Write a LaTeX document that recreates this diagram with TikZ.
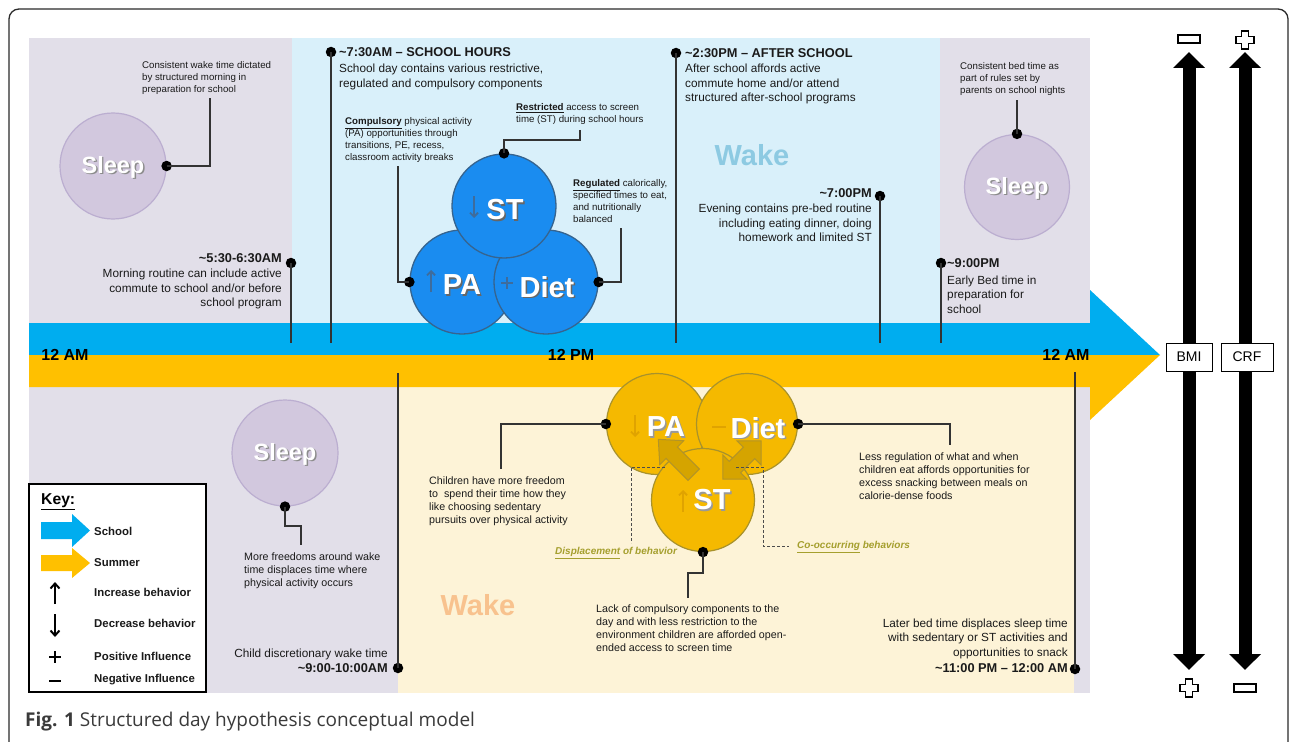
\documentclass[tikz,border=0pt]{standalone}
\usepackage{fontspec}
\setmainfont{Liberation Sans}
\newfontfamily\capfont{Open Sans}
\usetikzlibrary{arrows.meta}
\definecolor{purplebg}{HTML}{E2DFE9}
\definecolor{bluebg}{HTML}{D9F0FA}
\definecolor{creambg}{HTML}{FDF3D7}
\definecolor{schoolblue}{HTML}{00ADEF}
\definecolor{summeryel}{HTML}{FFC000}
\definecolor{sleepfill}{HTML}{D2C8DE}
\definecolor{sleepdraw}{HTML}{BBAED0}
\definecolor{bfill}{HTML}{1A8CF0}
\definecolor{bdraw}{HTML}{36648F}
\definecolor{bglyph}{HTML}{3E6C9C}
\definecolor{yfill}{HTML}{F5B900}
\definecolor{ydraw}{HTML}{A8922C}
\definecolor{yglyph}{HTML}{E0A300}
\definecolor{blkfill}{HTML}{D5A400}
\definecolor{blkdraw}{HTML}{B39427}
\definecolor{olive}{HTML}{A59F2E}
\definecolor{wakeblue}{HTML}{8DCAE2}
\definecolor{wakepeach}{HTML}{F8C28E}
\definecolor{txt}{HTML}{1A1A1A}
\definecolor{framec}{HTML}{2B2B2B}
\definecolor{capc}{HTML}{3A3A3A}
\definecolor{conncol}{HTML}{333333}
\newcommand\hdr[1]{{\fontsize{12.8}{14.5}\selectfont\bfseries #1}}
\begin{document}
\begin{tikzpicture}[x=1pt,y=-1pt,
  sm/.style={font=\fontsize{9.7}{11.8}\selectfont, inner sep=0, text=txt, align=left},
  smb/.style={font=\fontsize{10.7}{13}\selectfont, inner sep=0, text=txt, align=left},
  md/.style={font=\fontsize{11.8}{14.5}\selectfont, inner sep=0, text=txt},
  dot/.style={circle, fill=black, inner sep=0, minimum size=10.5},
  conn/.style={draw=conncol, line width=1.3pt},
  dashc/.style={draw=black!70, line width=0.9pt, dash pattern=on 3pt off 2pt},
  sleepc/.style={circle, fill=sleepfill, draw=sleepdraw, line width=1.2pt, minimum size=106, inner sep=0},
  bcirc/.style={circle, fill=bfill, draw=bdraw, line width=1.3pt, minimum size=104, inner sep=0},
  ycirc/.style={circle, fill=yfill, draw=ydraw, line width=1.2pt, minimum size=101, inner sep=0},
  bigw/.style={font=\fontsize{29}{29}\selectfont\bfseries, inner sep=0},
  sleept/.style={font=\fontsize{23.5}{24}\selectfont\bfseries, inner sep=0},
  keyt/.style={font=\fontsize{11.4}{13}\selectfont\bfseries, anchor=west, inner sep=0, text=txt},
  olivet/.style={font=\fontsize{10}{12}\selectfont\bfseries\itshape, text=olive, anchor=west, inner sep=0},
  glyph/.style={line width=1.8pt, -{Straight Barb[length=4pt,width=8pt]}},
  blk/.style={fill=blkfill, draw=blkdraw, line width=1pt},
  bigarrow/.style={line width=13pt, {Triangle[length=16pt,width=31pt]}-{Triangle[length=16pt,width=31pt]}},
  axbox/.style={draw=black, fill=white, line width=1pt, minimum width=46, minimum height=28, inner sep=0, font=\fontsize{14}{14}\selectfont},
  sym/.style={draw=black, fill=white, line width=1.4pt}
]
\useasboundingbox (0,0) rectangle (1292,741);
\fill[white] (0,0) rectangle (1292,741);
% frame
\draw[framec, line width=1.3pt, rounded corners=10pt] (9,760) -- (9,9) -- (1288,9) -- (1288,760);
% backgrounds
\fill[purplebg] (29,38) rectangle (292,323);
\fill[bluebg] (292,38) rectangle (940,323);
\fill[purplebg] (940,38) rectangle (1090,323);
\fill[purplebg] (29,387) rectangle (398,693);
\fill[creambg] (398,387) rectangle (1074,693);
\fill[purplebg] (1074,387) rectangle (1090,693);
% timeline arrow
\fill[schoolblue] (29,323) -- (1090,323) -- (1090,290) -- (1160,355) -- (29,355) -- cycle;
\fill[summeryel] (29,355) -- (1160,355) -- (1090,420) -- (1090,387) -- (29,387) -- cycle;

% ===== TOP (school) =====
% sleep left
\node[sleepc] (sl1) at (113,166) {};
\node[sleept, text=black!45] at (113+1.4,167+1.4) {Sleep};
\node[sleept, text=white] (sl1t) at (113,167) {Sleep};
\node[sm, anchor=north west] (twake) at (142,61.5) {Consistent wake time dictated\\by structured morning in\\preparation for school};
\coordinate (c1) at (210,98);
\node[dot] (dsl1) at (sl1.east) {};
\draw[conn] (dsl1.center) -| (c1);

% 5:30
\node[md, anchor=north east, align=right] (t530) at (282,253.5) {\hdr{\textasciitilde5:30-6:30AM}\\[0.5pt]Morning routine can include active\\commute to school and/or before\\school program};
\node[dot] (d530) at (291,263) {};
\coordinate (e530) at (291,343);
\draw[conn] (d530.center) -- (e530);

% 7:30
\node[md, anchor=north west, align=left] (t730) at (339,47.5) {\hdr{\textasciitilde7:30AM – SCHOOL HOURS}\\[1.5pt]School day contains various restrictive,\\regulated and compulsory components};
\node[dot] (d730) at (331,52) {};
\coordinate (e730) at (331,343);
\draw[conn] (d730.center) -- (e730);

% blue circles
\node[bcirc] (bpa) at (462,282) {};
\node[bcirc] (bdiet) at (546,282) {};
\node[bcirc] (bst) at (504,206) {};
\node[bigw, text=black!60] at (505+1.5,210+1.5) {ST};
\node[bigw, text=white] (bstt) at (505,210) {ST};
\node[bigw, text=black!60] at (462+1.5,285+1.5) {PA};
\node[bigw, text=white] (bpat) at (462,285) {PA};
\node[bigw, text=black!60] at (547+1.5,287+1.5) {Diet};
\node[bigw, text=white] (bdiett) at (547,287) {Diet};
\draw[glyph, draw=bglyph] (474,196) -- (474,218);
\draw[glyph, draw=bglyph] (431,292) -- (431,270);
\draw[bglyph, line width=2.6pt] (501,283) -- (513,283) (507,277) -- (507,289);

% compulsory
\node[sm, anchor=north west] (tcomp) at (345,117.5) {\underline{\textbf{Compulsory}} physical activity\\(PA) opportunities through\\transitions, PE, recess,\\classroom activity breaks};
\coordinate (cC) at (398,166);
\node[dot] (dbpa) at (bpa.west) {};
\draw[conn] (cC) |- (dbpa.center);
% restricted
\node[sm, anchor=north west] (trest) at (516,103.5) {\underline{\textbf{Restricted}} access to screen\\time (ST) during school hours};
\coordinate (cR) at (580,130);
\node[dot] (dbst) at (bst.north) {};
\draw[conn] (cR) -- (580,140) -| (dbst.center);
% regulated
\node[sm, anchor=north west] (treg) at (573,179.5) {\underline{\textbf{Regulated}} calorically,\\specified times to eat,\\and nutritionally\\balanced};
\coordinate (cG) at (621,228);
\node[dot] (dbdiet) at (bdiet.east) {};
\draw[conn] (cG) |- (dbdiet.center);

% 2:30
\node[md, anchor=north west, align=left] (t230) at (685,48.5) {\hdr{\textasciitilde2:30PM – AFTER SCHOOL}\\[0.5pt]After school affords active\\commute home and/or attend\\structured after-school programs};
\node[dot] (d230) at (676,53) {};
\coordinate (e230) at (676,343);
\draw[conn] (d230.center) -- (e230);

\node[bigw, text=wakeblue] (wake1) at (752,155) {Wake};

% 7:00
\node[md, anchor=north east, align=right] (t700) at (872,188.5) {\hdr{\textasciitilde7:00PM}\\[0.5pt]Evening contains pre-bed routine\\including eating dinner, doing\\homework and limited ST};
\node[dot] (d700) at (880,196) {};
\coordinate (e700) at (880,343);
\draw[conn] (d700.center) -- (e700);

% sleep right
\node[sleepc, minimum size=105] (sl2) at (1017,187) {};
\node[sleept, text=black!45] at (1017+1.4,188+1.4) {Sleep};
\node[sleept, text=white] (sl2t) at (1017,188) {Sleep};
\node[sm, anchor=north west] (tbed) at (960,62.5) {Consistent bed time as\\part of rules set by\\parents on school nights};
\coordinate (c2) at (1017,100);
\node[dot] (dsl2) at (sl2.north) {};
\draw[conn] (dsl2.center) -- (c2);

% 9:00
\node[md, anchor=north west, align=left] (t900) at (947,258.5) {\hdr{\textasciitilde9:00PM}\\[2pt]Early Bed time in\\preparation for\\school};
\node[dot] (d900) at (941,263) {};
\coordinate (e900) at (941,343);
\draw[conn] (d900.center) -- (e900);

% timeline labels
\node[font=\fontsize{16}{16}\selectfont\bfseries, inner sep=0, text=black] (am1) at (65,355) {12 AM};
\node[font=\fontsize{16}{16}\selectfont\bfseries, inner sep=0, text=black] (pm) at (571,355) {12 PM};
\node[font=\fontsize{16}{16}\selectfont\bfseries, inner sep=0, text=black] (am2) at (1066,355) {12 AM};

% ===== BOTTOM (summer) =====
% 9-10 AM
\node[md, anchor=north east, align=right] (t9am) at (388,648.5) {Child discretionary wake time\\[0.5pt]\hdr{\textasciitilde9:00-10:00AM}};
\node[dot] (d9am) at (398,668) {};
\coordinate (e9am) at (398,373);
\draw[conn] (d9am.center) -- (e9am);

% sleep bottom
\node[sleepc] (sl3) at (285,453) {};
\node[sleept, text=black!45] at (285+1.4,454+1.4) {Sleep};
\node[sleept, text=white] (sl3t) at (285,454) {Sleep};
\node[smb, anchor=north west] (tfree) at (244,553) {More freedoms around wake\\time displaces time where\\physical activity occurs};
\coordinate (c3) at (301,545);
\node[dot] (dsl3) at (sl3.south) {};
\draw[conn] (dsl3.center) -- (285,526) -| (c3);

% yellow circles
\node[ycirc] (ypa) at (657,424) {};
\node[ycirc] (ydiet) at (747,424) {};
\node[ycirc, minimum size=103] (yst) at (703,500) {};
\node[bigw, text=black!40] at (666+1.5,427+1.5) {PA};
\node[bigw, text=white] (ypat) at (666,427) {PA};
\node[bigw, text=black!40] at (758+1.5,428+1.5) {Diet};
\node[bigw, text=white] (ydiett) at (758,428) {Diet};
\node[bigw, text=black!40] at (712+1.5,500+1.5) {ST};
\node[bigw, text=white] (ystt) at (712,500) {ST};
\draw[glyph, draw=yglyph] (635,415) -- (635,437);
\draw[glyph, draw=yglyph] (683,512) -- (683,490);
\draw[yglyph, line width=2.2pt] (712,427) -- (726,427);
% block arrows
\begin{scope}[shift={(676,457)}, rotate=135]
\draw[blk] (-25,-8) -- (6,-8) -- (6,-17) -- (25,0) -- (6,17) -- (6,8) -- (-25,8) -- cycle;
\end{scope}
\begin{scope}[shift={(742,460)}, rotate=45]
\draw[blk] (-27,0) -- (-10,-17) -- (-10,-8) -- (10,-8) -- (10,-17) -- (27,0) -- (10,17) -- (10,8) -- (-10,8) -- (-10,17) -- cycle;
\end{scope}
% dashed
\coordinate (dl1) at (665,467);
\coordinate (dl2) at (631,543);
\draw[dashc] (dl1) -- (631,467) -- (dl2);
\coordinate (dr1) at (736,467);
\coordinate (dr2) at (789,546);
\draw[dashc] (dr1) -- (763,467) -- (763,546) -- (dr2);
\node[olivet] (tdisp) at (555,553) {\underline{Displacement} of behavior};
\node[olivet] (tcooc) at (797,547) {\underline{Co-occurring} behaviors};

% connectors
\node[smb, anchor=north west] (tchild) at (429,477) {Children have more freedom\\to\ \ spend their time how they\\like choosing sedentary\\pursuits over physical activity};
\coordinate (c4) at (501,469);
\node[dot] (dypa) at (ypa.west) {};
\draw[conn] (dypa.center) -| (c4);
\node[smb, anchor=north west] (tless) at (859,453) {Less regulation of what and when\\children eat affords opportunities for\\excess snacking between meals on\\calorie-dense foods};
\coordinate (c5) at (950,445);
\node[dot] (dydiet) at (ydiet.east) {};
\draw[conn] (dydiet.center) -| (c5);
\node[smb, anchor=north west] (tlack) at (596,605) {Lack of compulsory components to the\\day and with less restriction to the\\environment children are afforded open-\\ended access to screen time};
\coordinate (c6) at (688,598);
\node[dot] (dyst) at (yst.south) {};
\draw[conn] (dyst.center) -- (703,573) -| (c6);

\node[bigw, text=wakepeach] (wake2) at (478,605) {Wake};

% 11 PM
\node[md, anchor=north east, align=right] (t11) at (1068,618.5) {Later bed time displaces sleep time\\with sedentary or ST activities and\\opportunities to snack\\[2pt]\hdr{\textasciitilde11:00 PM – 12:00 AM}};
\node[dot] (d11) at (1075,669) {};
\coordinate (e11) at (1075,372);
\draw[conn] (d11.center) -- (e11);

% key
\draw[black, line width=2pt, fill=white] (29,484) rectangle (206,692);
\node[font=\fontsize{15.7}{16}\selectfont\bfseries, anchor=west, inner sep=0] (keyh) at (41,502) {\underline{Key:}};
\fill[schoolblue] (41,522) -- (72,522) -- (72,514) -- (90,530.5) -- (72,547) -- (72,539) -- (41,539) -- cycle;
\fill[summeryel] (41,555) -- (72,555) -- (72,548) -- (90,563) -- (72,578) -- (72,571) -- (41,571) -- cycle;
\draw[line width=2pt, -{Straight Barb[length=5pt,width=9pt]}] (55,604) -- (55,582);
\draw[line width=2pt, -{Straight Barb[length=5pt,width=9pt]}] (55,614) -- (55,637);
\draw[line width=2.6pt] (49,657) -- (61,657) (55,651) -- (55,663);
\draw[line width=2.6pt] (49,681) -- (61,681);
\node[keyt] (kschool) at (94,531) {School};
\node[keyt] (ksummer) at (94,563) {Summer};
\node[keyt] (kinc) at (94,592) {Increase behavior};
\node[keyt] (kdec) at (94,623) {Decrease behavior};
\node[keyt] (kpos) at (94,656) {Positive Influence};
\node[keyt] (kneg) at (94,680) {Negative Influence};

% ===== right axes =====
\coordinate (bmitop) at (1189,52);
\coordinate (bmibot) at (1189,670);
\coordinate (crftop) at (1245,52);
\coordinate (crfbot) at (1245,670);
\draw[bigarrow] (bmitop) -- (bmibot);
\draw[bigarrow] (crftop) -- (crfbot);
\node[axbox] (bmi) at (1189,357) {BMI};
\node[axbox, minimum width=52] (crf) at (1247,357) {CRF};
% symbols
\draw[sym] (1178,35) rectangle (1200,43);
\draw[sym] (1234,684) rectangle (1256,692);
\begin{scope}[shift={(1245,40)}]
\draw[sym] (-3.5,-9) -- (3.5,-9) -- (3.5,-3.5) -- (9,-3.5) -- (9,3.5) -- (3.5,3.5) -- (3.5,9) -- (-3.5,9) -- (-3.5,3.5) -- (-9,3.5) -- (-9,-3.5) -- (-3.5,-3.5) -- cycle;
\end{scope}
\begin{scope}[shift={(1189,688)}]
\draw[sym] (-3.5,-9) -- (3.5,-9) -- (3.5,-3.5) -- (9,-3.5) -- (9,3.5) -- (3.5,3.5) -- (3.5,9) -- (-3.5,9) -- (-3.5,3.5) -- (-9,3.5) -- (-9,-3.5) -- (-3.5,-3.5) -- cycle;
\end{scope}

% caption
\node[anchor=west, inner sep=0, text=capc, font=\capfont\fontsize{19}{19}\selectfont] (cap) at (25,722) {\textbf{Fig. 1} Structured day hypothesis conceptual model};
\end{tikzpicture}
\end{document}
